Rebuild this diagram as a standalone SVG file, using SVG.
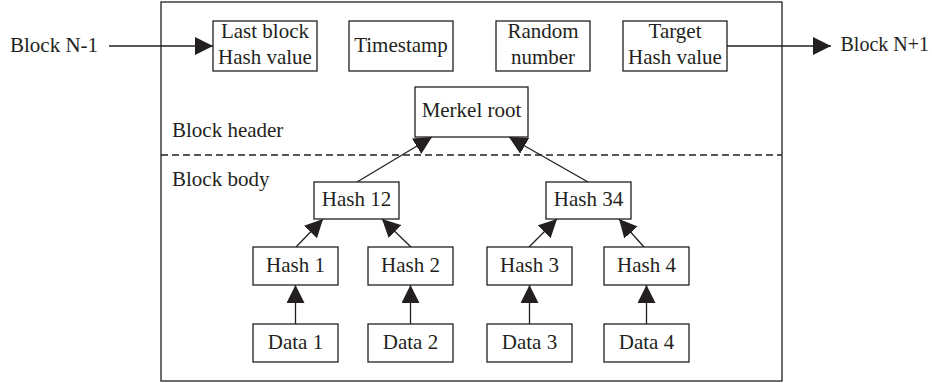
<svg xmlns="http://www.w3.org/2000/svg" width="932" height="383" viewBox="0 0 932 383">
<style>
.box{fill:#fff;stroke:#231f20;stroke-width:1.3}
.frame{fill:none;stroke:#231f20;stroke-width:1.3}
.ln{fill:none;stroke:#231f20;stroke-width:1.3}
.dash{fill:none;stroke:#231f20;stroke-width:1.3;stroke-dasharray:7 4}
text{font-family:"Liberation Serif","Times New Roman",serif;font-size:21px;fill:#231f20}
.c{text-anchor:middle}
</style>
<defs>
<marker id="ah" markerUnits="userSpaceOnUse" markerWidth="18" markerHeight="18" refX="18" refY="9" orient="auto">
<path d="M0,0 L18,9 L0,18 z" fill="#231f20"/>
</marker>
</defs>
<rect class="frame" x="161" y="2" width="621" height="379"/>
<line class="dash" x1="161" y1="155" x2="782" y2="155"/>
<text x="172" y="137">Block header</text>
<text x="172" y="186">Block body</text>
<text x="10" y="52">Block N-1</text>
<text x="929" y="51" text-anchor="end" style="font-size:20px">Block N+1</text>
<g id="connectors">
<line class="ln" x1="109" y1="46" x2="213" y2="46" marker-end="url(#ah)"/>
<line class="ln" x1="727" y1="46" x2="831" y2="46" marker-end="url(#ah)"/>
<line class="ln" x1="357" y1="182" x2="432" y2="137" marker-end="url(#ah)"/>
<line class="ln" x1="588" y1="182" x2="509" y2="137" marker-end="url(#ah)"/>
<line class="ln" x1="296" y1="247" x2="323" y2="219" marker-end="url(#ah)"/>
<line class="ln" x1="411" y1="247" x2="382" y2="219" marker-end="url(#ah)"/>
<line class="ln" x1="529" y1="247" x2="557" y2="219" marker-end="url(#ah)"/>
<line class="ln" x1="644" y1="247" x2="619" y2="219" marker-end="url(#ah)"/>
<line class="ln" x1="295.5" y1="324" x2="295.5" y2="285" marker-end="url(#ah)"/>
<line class="ln" x1="410.5" y1="324" x2="410.5" y2="285" marker-end="url(#ah)"/>
<line class="ln" x1="529.5" y1="324" x2="529.5" y2="285" marker-end="url(#ah)"/>
<line class="ln" x1="646.5" y1="324" x2="646.5" y2="285" marker-end="url(#ah)"/>
</g>
<g id="last-block"><rect class="box" x="213" y="21" width="104" height="50"/><text class="c" x="265" y="38">Last block</text><text class="c" x="265" y="64">Hash value</text></g>
<g id="timestamp"><rect class="box" x="349" y="21" width="104" height="50"/><text class="c" x="401" y="52">Timestamp</text></g>
<g id="random"><rect class="box" x="496" y="21" width="94" height="50"/><text class="c" x="543" y="38">Random</text><text class="c" x="543" y="64">number</text></g>
<g id="target"><rect class="box" x="623" y="21" width="104" height="50"/><text class="c" x="675" y="38">Target</text><text class="c" x="675" y="64">Hash value</text></g>
<g id="merkel"><rect class="box" x="415" y="87" width="113" height="50"/><text class="c" x="471.5" y="117">Merkel root</text></g>
<g id="hash12"><rect class="box" x="314" y="182" width="85" height="37"/><text class="c" x="356.5" y="206">Hash 12</text></g>
<g id="hash34"><rect class="box" x="546" y="182" width="85" height="37"/><text class="c" x="588.5" y="206">Hash 34</text></g>
<g id="hash1"><rect class="box" x="253" y="247" width="85" height="38"/><text class="c" x="295.5" y="272">Hash 1</text></g>
<g id="hash2"><rect class="box" x="368" y="247" width="85" height="38"/><text class="c" x="410.5" y="272">Hash 2</text></g>
<g id="hash3"><rect class="box" x="487" y="247" width="85" height="38"/><text class="c" x="529.5" y="272">Hash 3</text></g>
<g id="hash4"><rect class="box" x="604" y="247" width="85" height="38"/><text class="c" x="646.5" y="272">Hash 4</text></g>
<g id="data1"><rect class="box" x="253" y="324" width="85" height="38"/><text class="c" x="295.5" y="349">Data 1</text></g>
<g id="data2"><rect class="box" x="368" y="324" width="85" height="38"/><text class="c" x="410.5" y="349">Data 2</text></g>
<g id="data3"><rect class="box" x="487" y="324" width="85" height="38"/><text class="c" x="529.5" y="349">Data 3</text></g>
<g id="data4"><rect class="box" x="604" y="324" width="85" height="38"/><text class="c" x="646.5" y="349">Data 4</text></g>
</svg>
